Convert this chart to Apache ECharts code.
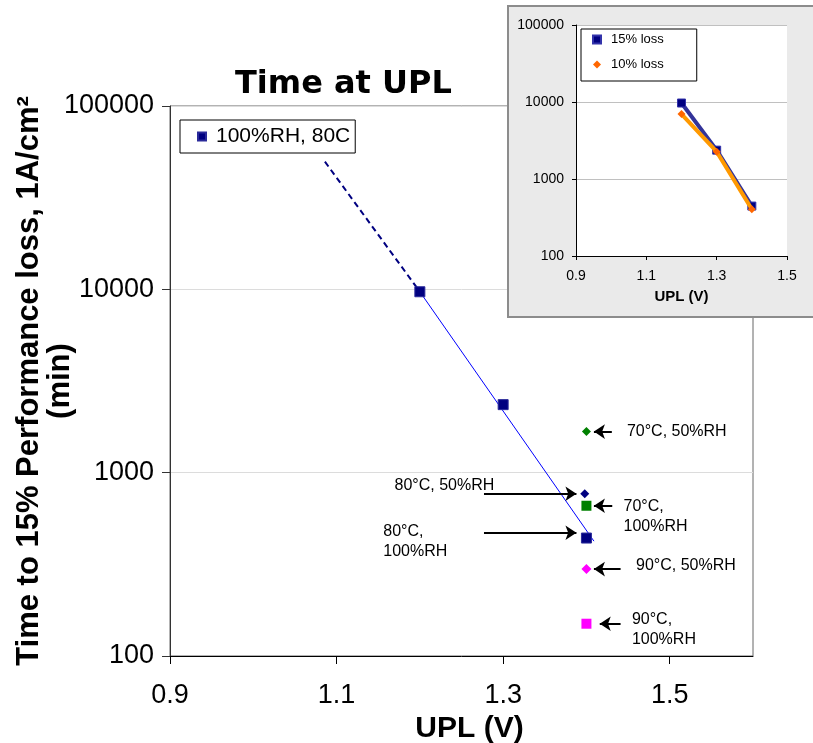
<!DOCTYPE html>
<html>
<head>
<meta charset="utf-8">
<script src="https://cdn.jsdelivr.net/npm/echarts@6/dist/echarts.min.js"></script>
<style>html,body{margin:0;padding:0;background:#fff;}#c{width:813px;height:743px;}</style>
</head>
<body>
<div id="c"></div>
<script>
// ---- Data ----
const xTicks = [0.9, 1.1, 1.3, 1.5];
const mainName = '100%RH, 80C';
const mainX = [1.2, 1.3, 1.4];
const mainY = [9700, 2350, 440];
const fitSolidX = [1.2, 1.409];
const fitSolidY = [9700, 423];
const fitDashX = [1.086, 1.2];
const fitDashY = [49700, 9700];

const otherLabels = ['70°C, 50%RH', '80°C, 50%RH', '70°C, 100%RH', '90°C, 50%RH', '90°C, 100%RH'];
const otherX = [1.4, 1.398, 1.4, 1.4, 1.4];
const otherY = [1675, 767, 660, 298, 150];
const otherColors = ['#008000', '#000080', '#008000', '#FF00FF', '#FF00FF'];
const otherSymbols = ['diamond', 'diamond', 'rect', 'diamond', 'rect'];
const otherSizes = [9, 9, 10, 10, 10];

// annotation texts and anchors (data coords)
const noteTexts = ['70°C, 50%RH', '80°C, 50%RH', '70°C,\n100%RH', '80°C,\n100%RH', '90°C, 50%RH', '90°C,\n100%RH'];
const noteX = [1.448, 1.169, 1.444, 1.1555, 1.459, 1.454];
const noteY = [1673, 845, 578, 419, 313, 139];
// arrows: from (arrowX1, arrowY) to (arrowX2, arrowY)
const arrowX1 = [1.4305, 1.277, 1.431, 1.277, 1.441, 1.441];
const arrowX2 = [1.409, 1.388, 1.409, 1.388, 1.409, 1.416];
const arrowY = [1675, 767, 660, 470, 298, 150];

// inset
const insetNames = ['15% loss', '10% loss'];
const insetX = [1.2, 1.3, 1.4];
const loss15 = [9700, 2370, 445];
const loss10 = [6980, 2260, 404];

const FONT = '"Liberation Sans", Arial, sans-serif';
const SQ = 'path://M0,0L10,0L10,10L0,10Z';
const DM = 'path://M5,0L10,5L5,10L0,5Z';
const pairs = (xs, ys) => xs.map((x, i) => [x, ys[i]]);

const chart = echarts.init(document.getElementById('c'), null, {renderer: 'canvas'});
const option = {
  animation: false,
  backgroundColor: '#fff',
  title: {
    text: 'Time at UPL',
    left: 235, top: 69,
    padding: 0,
    textStyle: {fontFamily: '"DejaVu Sans", sans-serif', fontWeight: 'bold', fontSize: 32, color: '#000'}
  },
  legend: [
    {
      data: [{name: mainName, icon: SQ, itemStyle: {color: '#000080', opacity: 1}}],
      left: 180, top: 120,
      orient: 'vertical',
      padding: [6, 5, 6, 17],
      itemWidth: 18, itemHeight: 8,
      borderColor: '#000', borderWidth: 1,
      backgroundColor: '#fff',
      selectedMode: false,
      textStyle: {fontFamily: FONT, fontSize: 21, lineHeight: 21, color: '#000'}
    },
    {
      data: [{name: insetNames[0], icon: SQ}, {name: insetNames[1], icon: DM}],
      left: 581, top: 29,
      orient: 'vertical',
      padding: [3, 33, 9, 11],
      itemGap: 10,
      itemWidth: 18, itemHeight: 8,
      borderColor: '#000', borderWidth: 1,
      backgroundColor: '#fff',
      selectedMode: false,
      z: 80,
      textStyle: {fontFamily: FONT, fontSize: 13, lineHeight: 15, color: '#000'}
    }
  ],
  graphic: [
    {
      type: 'rect', z: 50, silent: true,
      shape: {x: 508, y: 6, width: 330, height: 311},
      style: {fill: '#eaeaea', stroke: '#8c8c8c', lineWidth: 2}
    }
  ],
  grid: [
    {left: 170, right: 60, top: 106, bottom: 87, containLabel: false, outerBoundsMode: 'none', show: true, borderColor: '#666', borderWidth: 1, backgroundColor: '#fff', z: 0},
    {left: 576, right: 26, top: 25, bottom: 487, containLabel: false, outerBoundsMode: 'none', show: true, borderWidth: 0, backgroundColor: '#fff', z: 60}
  ],
  xAxis: [
    {
      type: 'value', gridIndex: 0, min: 0.9, max: 1.6,
      name: 'UPL (V)', nameLocation: 'middle', nameGap: 58, nameMoveOverlap: false,
      nameTextStyle: {fontFamily: FONT, fontWeight: 'bold', fontSize: 30, color: '#000', padding: [0, 0, 0, 16]},
      axisLine: {lineStyle: {color: '#000', width: 1}},
      axisTick: {customValues: xTicks, length: 8, lineStyle: {color: '#000'}},
      axisLabel: {customValues: xTicks, margin: 26, fontFamily: FONT, fontSize: 27, color: '#000', formatter: v => v.toFixed(1)},
      splitLine: {show: false}
    },
    {
      type: 'value', gridIndex: 1, min: 0.9, max: 1.5, z: 62,
      name: 'UPL (V)', nameLocation: 'middle', nameGap: 33, nameMoveOverlap: false,
      nameTextStyle: {fontFamily: FONT, fontWeight: 'bold', fontSize: 15, color: '#000'},
      axisLine: {lineStyle: {color: '#000', width: 1}},
      axisTick: {customValues: xTicks, length: 4, lineStyle: {color: '#000'}},
      axisLabel: {customValues: xTicks, margin: 13, fontFamily: FONT, fontSize: 14, color: '#000', formatter: v => v.toFixed(1)},
      splitLine: {show: false}
    }
  ],
  yAxis: [
    {
      type: 'log', logBase: 10, gridIndex: 0, min: 100, max: 100000,
      name: 'Time to 15% Performance loss, 1A/cm²\n(min)',
      nameLocation: 'middle', nameRotate: 90, nameGap: 94, nameMoveOverlap: false,
      nameTextStyle: {fontFamily: FONT, fontWeight: 'bold', fontSize: 31, lineHeight: 31, color: '#000', align: 'center'},
      axisLine: {show: true, lineStyle: {color: '#333', width: 1}},
      axisTick: {show: true, length: 8, lineStyle: {color: '#333'}},
      minorTick: {show: false},
      axisLabel: {margin: 16, fontFamily: FONT, fontSize: 27, color: '#000', formatter: v => String(Math.round(v))},
      splitLine: {show: true, lineStyle: {color: '#dcdcdc', width: 1}}
    },
    {
      type: 'log', logBase: 10, gridIndex: 1, min: 100, max: 100000, z: 62,
      axisLine: {show: true, lineStyle: {color: '#000', width: 1}},
      axisTick: {show: true, length: 4, lineStyle: {color: '#000'}},
      axisLabel: {margin: 12, fontFamily: FONT, fontSize: 14, color: '#000', formatter: v => String(Math.round(v))},
      splitLine: {show: true, lineStyle: {color: '#c0c0c0', width: 1}}
    }
  ],
  series: [
    {
      name: 'fitDash', type: 'line', xAxisIndex: 0, yAxisIndex: 0,
      data: pairs(fitDashX, fitDashY), showSymbol: false, silent: true,
      lineStyle: {color: '#000080', width: 2, type: [6, 4]}, z: 3
    },
    {
      name: 'fitSolid', type: 'line', xAxisIndex: 0, yAxisIndex: 0,
      data: pairs(fitSolidX, fitSolidY), showSymbol: false, silent: true,
      lineStyle: {color: '#0000FF', width: 1}, z: 3
    },
    {
      name: mainName, type: 'scatter', xAxisIndex: 0, yAxisIndex: 0,
      data: pairs(mainX, mainY), symbol: 'rect', symbolSize: 10,
      itemStyle: {color: '#000080', opacity: 1, borderColor: '#2a2a9a', borderWidth: 1}, z: 4
    },
    {
      name: 'others', type: 'scatter', xAxisIndex: 0, yAxisIndex: 0, z: 4,
      data: otherX.map((x, i) => ({
        value: [x, otherY[i]], name: otherLabels[i],
        symbol: otherSymbols[i], symbolSize: otherSizes[i],
        itemStyle: {color: otherColors[i], opacity: 1}
      }))
    },
    {
      name: 'notes', type: 'scatter', xAxisIndex: 0, yAxisIndex: 0, z: 5, silent: true,
      symbolSize: 1, itemStyle: {color: 'rgba(0,0,0,0)', opacity: 1},
      data: noteX.map((x, i) => ({value: [x, noteY[i]], name: noteTexts[i]})),
      label: {
        show: true, position: 'right', distance: 0, opacity: 1,
        formatter: p => p.name,
        fontFamily: FONT, fontSize: 16, lineHeight: 20, color: '#000', align: 'left'
      },
      markLine: {
        silent: true, animation: false,
        symbol: ['none', 'arrow'], symbolSize: 11,
        label: {show: false},
        lineStyle: {color: '#000', width: 2, type: 'solid', opacity: 1},
        itemStyle: {color: '#000'},
        data: arrowX1.map((x1, i) => [
          {coord: [x1, arrowY[i]]},
          {coord: [arrowX2[i], arrowY[i]]}
        ])
      }
    },
    {
      name: insetNames[0], type: 'line', xAxisIndex: 1, yAxisIndex: 1, z: 63,
      data: pairs(insetX, loss15), symbol: 'rect', symbolSize: 8, showSymbol: true,
      lineStyle: {color: '#333399', width: 4},
      itemStyle: {color: '#000080', borderColor: '#3333aa', borderWidth: 1}
    },
    {
      name: insetNames[1], type: 'line', xAxisIndex: 1, yAxisIndex: 1, z: 64,
      data: pairs(insetX, loss10), symbol: 'diamond', symbolSize: 8, showSymbol: true,
      lineStyle: {color: '#FF9900', width: 4},
      itemStyle: {color: '#FF6600'}
    }
  ]
};
chart.setOption(option);
</script>
</body>
</html>
